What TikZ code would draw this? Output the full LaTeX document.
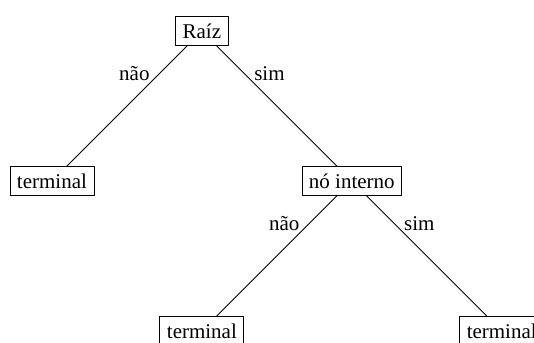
\documentclass[tikz,border=0pt]{standalone}
\usepackage{fontspec}
\setmainfont{Liberation Serif}

\begin{document}
\begin{tikzpicture}[line cap=round,line join=round,
    box/.style={draw,inner sep=.3333em},
    edgelabel/.style={inner sep=.5pt,pos=.3}]
    \def\dist{2.51}
    \useasboundingbox (-3.38,0.52) rectangle (5.56,-5.22);
    % nodes
    \node[box] (raiz) at (0,0) {Raíz};
    \node[box] (term1) at (-\dist,-\dist) {terminal};
    \node[box] (interno) at (\dist,-\dist) {nó interno};
    \node[box] (term2) at (0,-2*\dist) {terminal};
    \node[box] (term3) at (2*\dist,-2*\dist) {terminal};
    % edges
    \draw (raiz) -- (term1) node[edgelabel,anchor=south east] {não};
    \draw (raiz) -- (interno) node[edgelabel,anchor=south west] {sim};
    \draw (interno) -- (term2) node[edgelabel,anchor=south east] {não};
    \draw (interno) -- (term3) node[edgelabel,anchor=south west] {sim};
\end{tikzpicture}
\end{document}
